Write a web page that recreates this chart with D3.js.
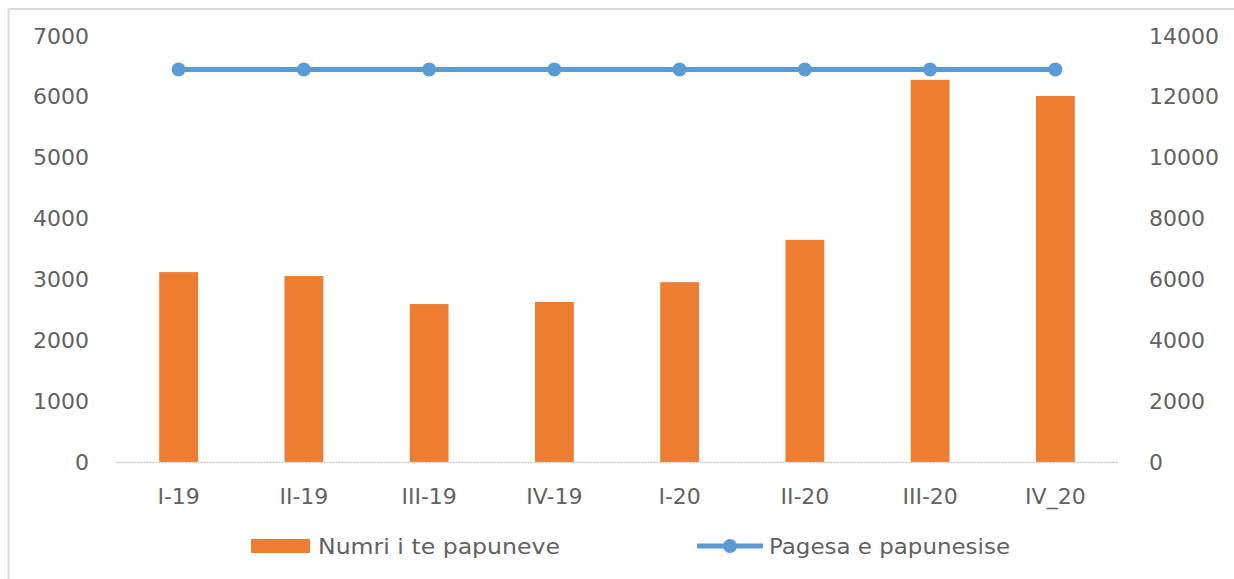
<!DOCTYPE html>
<html>
<head>
<meta charset="utf-8">
<script src="https://cdn.jsdelivr.net/npm/d3@7"></script>
<style>
    body { margin: 0; background: #ffffff; }
    svg { display: block; }
    .tick text { font-family: "DejaVu Sans", sans-serif; font-size: 22px; fill: #626262; }
</style>
</head>
<body>
<div class="container"></div>
<script>
// chart data
const quarters = ["I-19", "II-19", "III-19", "IV-19", "I-20", "II-20", "III-20", "IV_20"];
const unemployed = [3120, 3055, 2595, 2630, 2955, 3650, 6280, 6015];
const payment = [12900, 12900, 12900, 12900, 12900, 12900, 12900, 12900];
const leftTicks = [0, 1000, 2000, 3000, 4000, 5000, 6000, 7000];
const rightTicks = [0, 2000, 4000, 6000, 8000, 10000, 12000, 14000];
const barLabel = "Numri i te papuneve";
const lineLabel = "Pagesa e papunesise";

const
    svgWidth = 1234,
    svgHeight = 579;

const margin = {
    top: 36,
    right: 116,
    bottom: 117,
    left: 116
};

const width = svgWidth - margin.left - margin.right;
const height = svgHeight - margin.top - margin.bottom;

const svg = d3
    .select(".container")
    .append("svg")
    .attr("width", svgWidth)
    .attr("height", svgHeight);

// frame
svg.append("rect")
    .attr("x", 8.5)
    .attr("y", 9)
    .attr("width", svgWidth + 20)
    .attr("height", svgHeight + 20)
    .attr("fill", "none")
    .attr("stroke", "#d9d9d9")
    .attr("stroke-width", 2);

const chartGroup = svg.append("g")
    .attr("transform", `translate(${margin.left}, ${margin.top})`);

//Scales
const xBandScale = d3.scaleBand()
    .domain(quarters)
    .range([0, width])
    .paddingInner(0.69)
    .paddingOuter(0.345);

const yLeftScale = d3.scaleLinear()
    .domain([0, 7000])
    .range([height, 0]);

const yRightScale = d3.scaleLinear()
    .domain([0, 14000])
    .range([height, 0]);

//Axes
const leftAxis = d3.axisLeft(yLeftScale)
    .tickValues(leftTicks)
    .tickFormat(d3.format("d"))
    .tickSize(0)
    .tickPadding(27);
const rightAxis = d3.axisRight(yRightScale)
    .tickValues(rightTicks)
    .tickFormat(d3.format("d"))
    .tickSize(0)
    .tickPadding(31);
const bottomAxis = d3.axisBottom(xBandScale).tickSize(0).tickPadding(21);

chartGroup.append("g").call(leftAxis)
    .call(g => g.select(".domain").remove());

chartGroup.append("g")
    .attr("transform", `translate(${width}, 0)`)
    .call(rightAxis)
    .call(g => g.select(".domain").remove());

//Bars
chartGroup.selectAll("rect.bar")
    .data(unemployed)
    .enter()
    .append("rect")
    .attr("class", "bar")
    .attr("x", (d, i) => xBandScale(quarters[i]))
    .attr("y", d => yLeftScale(d))
    .attr("width", xBandScale.bandwidth())
    .attr("height", d => height - yLeftScale(d))
    .attr("fill", "#ED7D31");

// baseline
const xAxis = chartGroup.append("g")
    .attr("transform", `translate(0, ${height})`)
    .call(bottomAxis);
xAxis.select(".domain")
    .attr("stroke", "#c9c9c9")
    .attr("stroke-width", 1.5)
    .attr("stroke-dasharray", "2,1");
xAxis.selectAll(".tick text").attr("dy", "0.95em");

//Line
const cx = i => xBandScale(quarters[i]) + xBandScale.bandwidth() / 2;
const line = d3.line()
    .x((d, i) => cx(i))
    .y(d => yRightScale(d));

chartGroup.append("path")
    .datum(payment)
    .attr("d", line)
    .attr("fill", "none")
    .attr("stroke", "#5B9BD5")
    .attr("stroke-width", 5);

chartGroup.selectAll("circle.marker")
    .data(payment)
    .enter()
    .append("circle")
    .attr("class", "marker")
    .attr("cx", (d, i) => cx(i))
    .attr("cy", d => yRightScale(d))
    .attr("r", 7)
    .attr("fill", "#5B9BD5");

//Legend
const legend = svg.append("g")
    .attr("transform", "translate(0, 546)");

legend.append("rect")
    .attr("x", 251)
    .attr("y", -7)
    .attr("width", 59)
    .attr("height", 14)
    .attr("fill", "#ED7D31");

legend.append("text")
    .attr("x", 318)
    .attr("y", 0)
    .attr("dy", "0.36em")
    .attr("textLength", 242)
    .attr("lengthAdjust", "spacingAndGlyphs")
    .style("font-family", "DejaVu Sans, sans-serif")
    .style("font-size", "22px")
    .style("fill", "#626262")
    .text(barLabel);

legend.append("line")
    .attr("x1", 697)
    .attr("x2", 763)
    .attr("y1", 0)
    .attr("y2", 0)
    .attr("stroke", "#5B9BD5")
    .attr("stroke-width", 5);

legend.append("circle")
    .attr("cx", 730)
    .attr("cy", 0)
    .attr("r", 7)
    .attr("fill", "#5B9BD5");

legend.append("text")
    .attr("x", 769)
    .attr("y", 0)
    .attr("dy", "0.36em")
    .attr("textLength", 241)
    .attr("lengthAdjust", "spacingAndGlyphs")
    .style("font-family", "DejaVu Sans, sans-serif")
    .style("font-size", "22px")
    .style("fill", "#626262")
    .text(lineLabel);
</script>
</body>
</html>
